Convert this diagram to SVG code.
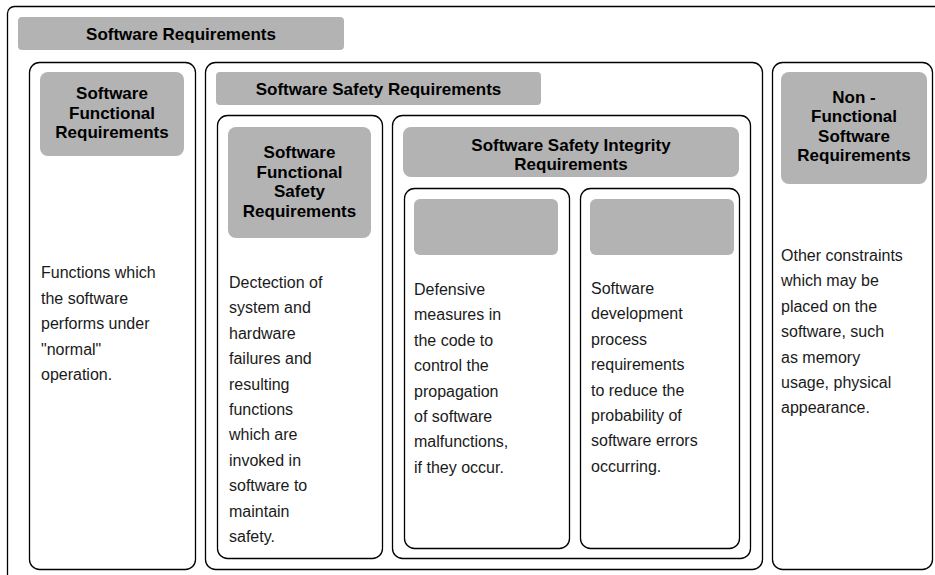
<svg xmlns="http://www.w3.org/2000/svg" width="935" height="575" viewBox="0 0 935 575">
<style>
.box{fill:#fff;stroke:#000;stroke-width:1.3}
.hdr{fill:#b3b3b3;stroke:none}
.t{font-family:"Liberation Sans",Arial,sans-serif;font-size:17px;font-weight:bold;fill:#000;text-anchor:middle}
.b{font-family:"Liberation Sans",Arial,sans-serif;font-size:16px;fill:#1a1a1a}
</style>
<rect width="935" height="575" fill="#fff"/>
<g id="software-requirements">
<rect class="box" x="7.5" y="6.5" width="940" height="590" rx="7"/>
<rect class="hdr" x="18" y="17" width="326" height="33" rx="4"/>
<text class="t" x="181" y="40">Software Requirements</text>
</g>
<g id="functional">
<rect class="box" x="29.5" y="62.5" width="166" height="507" rx="10"/>
<rect class="hdr" x="40" y="72" width="144" height="84" rx="8"/>
<text class="t" x="112" y="99">Software</text>
<text class="t" x="112" y="118.5">Functional</text>
<text class="t" x="112" y="138">Requirements</text>
<text class="b" x="41" y="278">Functions which</text>
<text class="b" x="41" y="303.5">the software</text>
<text class="b" x="41" y="329">performs under</text>
<text class="b" x="41" y="354.5">"normal"</text>
<text class="b" x="41" y="380">operation.</text>
</g>
<g id="safety">
<rect class="box" x="205.5" y="62.5" width="557" height="507" rx="10"/>
<rect class="hdr" x="216" y="72" width="325" height="33" rx="4"/>
<text class="t" x="378.5" y="95">Software Safety Requirements</text>
</g>
<g id="functional-safety">
<rect class="box" x="217.5" y="115.5" width="165" height="443" rx="10"/>
<rect class="hdr" x="228" y="127" width="143" height="111" rx="8"/>
<text class="t" x="299.5" y="158">Software</text>
<text class="t" x="299.5" y="177.5">Functional</text>
<text class="t" x="299.5" y="197">Safety</text>
<text class="t" x="299.5" y="216.5">Requirements</text>
<text class="b" x="229" y="288">Dectection of</text>
<text class="b" x="229" y="313.4">system and</text>
<text class="b" x="229" y="338.8">hardware</text>
<text class="b" x="229" y="364.2">failures and</text>
<text class="b" x="229" y="389.6">resulting</text>
<text class="b" x="229" y="415">functions</text>
<text class="b" x="229" y="440.4">which are</text>
<text class="b" x="229" y="465.8">invoked in</text>
<text class="b" x="229" y="491.2">software to</text>
<text class="b" x="229" y="516.6">maintain</text>
<text class="b" x="229" y="542">safety.</text>
</g>
<g id="integrity">
<rect class="box" x="392.5" y="115.5" width="358" height="443" rx="10"/>
<rect class="hdr" x="403" y="127" width="336" height="50" rx="8"/>
<text class="t" x="571" y="151">Software Safety Integrity</text>
<text class="t" x="571" y="170">Requirements</text>
</g>
<g id="defensive">
<rect class="box" x="404.5" y="188.5" width="165" height="360" rx="10"/>
<rect class="hdr" x="414" y="199" width="144" height="56" rx="6"/>
<text class="b" x="414" y="295">Defensive</text>
<text class="b" x="414" y="320.4">measures in</text>
<text class="b" x="414" y="345.8">the code to</text>
<text class="b" x="414" y="371.2">control the</text>
<text class="b" x="414" y="396.6">propagation</text>
<text class="b" x="414" y="422">of software</text>
<text class="b" x="414" y="447.4">malfunctions,</text>
<text class="b" x="414" y="472.8">if they occur.</text>
</g>
<g id="process">
<rect class="box" x="580.5" y="188.5" width="159" height="360" rx="10"/>
<rect class="hdr" x="590" y="199" width="144" height="56" rx="6"/>
<text class="b" x="591" y="294">Software</text>
<text class="b" x="591" y="319.4">development</text>
<text class="b" x="591" y="344.8">process</text>
<text class="b" x="591" y="370.2">requirements</text>
<text class="b" x="591" y="395.6">to reduce the</text>
<text class="b" x="591" y="421">probability of</text>
<text class="b" x="591" y="446.4">software errors</text>
<text class="b" x="591" y="471.8">occurring.</text>
</g>
<g id="non-functional">
<rect class="box" x="772.5" y="62.5" width="160" height="507" rx="10"/>
<rect class="hdr" x="781" y="72" width="146" height="112" rx="8"/>
<text class="t" x="854" y="103">Non -</text>
<text class="t" x="854" y="122.3">Functional</text>
<text class="t" x="854" y="141.6">Software</text>
<text class="t" x="854" y="161">Requirements</text>
<text class="b" x="781" y="261">Other constraints</text>
<text class="b" x="781" y="286.4">which may be</text>
<text class="b" x="781" y="311.8">placed on the</text>
<text class="b" x="781" y="337.2">software, such</text>
<text class="b" x="781" y="362.6">as memory</text>
<text class="b" x="781" y="388">usage, physical</text>
<text class="b" x="781" y="413.4">appearance.</text>
</g>
<g id="connectors"></g>
</svg>
